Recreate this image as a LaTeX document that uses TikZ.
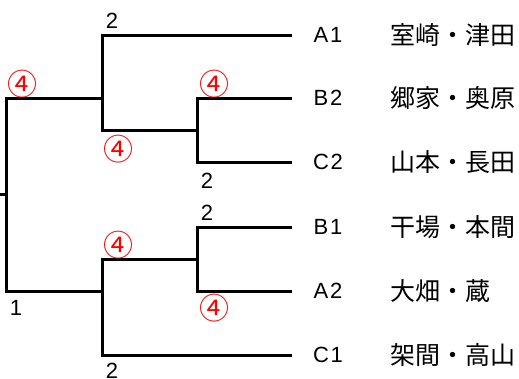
\documentclass[tikz,border=0pt]{standalone}
\usepackage{fontspec}
\setsansfont{Liberation Sans}
\newfontfamily\jpfont{Noto Sans CJK JP}
\tikzstyle{bracket}=[black, line width=3]
\tikzstyle{score}=[inner sep=0, font=\sffamily\fontsize{22}{22}\selectfont]
\tikzstyle{redscore}=[inner sep=0, text=red, font=\jpfont\fontsize{30}{30}\selectfont]
\tikzstyle{team}=[inner sep=0, font=\sffamily\fontsize{22}{22}\selectfont\addfontfeature{LetterSpace=8}]
\tikzstyle{pair}=[inner sep=0, anchor=west, font=\jpfont\fontsize{25}{25}\selectfont]

\begin{document}
\begin{tikzpicture}[x=1pt, y=-1pt]
  \useasboundingbox (0,0) rectangle (519,378);
  \coordinate (a1) at (292,35);
  \coordinate (b2) at (292,98);
  \coordinate (c2) at (292,162);
  \coordinate (b1) at (292,227);
  \coordinate (a2) at (292,291);
  \coordinate (c1) at (292,355);
  \coordinate (sf1) at (197,130);
  \coordinate (sf2) at (197,259);
  \coordinate (s1) at (102,98);
  \coordinate (s2) at (102,291);
  \coordinate (f) at (6,194);
  \coordinate (champ) at (0,194);
  \draw[bracket] (b2) -| (sf1) |- (c2);
  \draw[bracket] (b1) -| (sf2) |- (a2);
  \draw[bracket] (a1) -| (s1) |- (sf1);
  \draw[bracket] (c1) -| (s2) |- (sf2);
  \draw[bracket] (s1) -| (f) |- (s2);
  \draw[bracket] (champ) -- (f);
  \node[team] (A1) at (328,35) {A1};
  \node[team] (B2) at (328,98) {B2};
  \node[team] (C2) at (328,162) {C2};
  \node[team] (B1) at (328,227) {B1};
  \node[team] (A2) at (328,291) {A2};
  \node[team] (C1) at (328,355) {C1};
  \node[pair] (A1n) at (390,35) {室崎・津田};
  \node[pair] (B2n) at (390,98) {郷家・奥原};
  \node[pair] (C2n) at (390,162) {山本・長田};
  \node[pair] (B1n) at (390,227) {干場・本間};
  \node[pair] (A2n) at (390,291) {大畑・蔵};
  \node[pair] (C1n) at (390,355) {架間・高山};
  \node[score] (sa1) at (112,21) {2};
  \node[score] (sc2) at (207,181) {2};
  \node[score] (sb1) at (207,213) {2};
  \node[score] (sc1) at (112,371) {2};
  \node[score] (sf) at (16,308) {1};
  \node[redscore] (rf) at (23,84) {④};
  \node[redscore] (rb2) at (214,84) {④};
  \node[redscore] (rs1) at (118,149) {④};
  \node[redscore] (rs2) at (118,245) {④};
  \node[redscore] (ra2) at (214,308) {④};
\end{tikzpicture}
\end{document}
